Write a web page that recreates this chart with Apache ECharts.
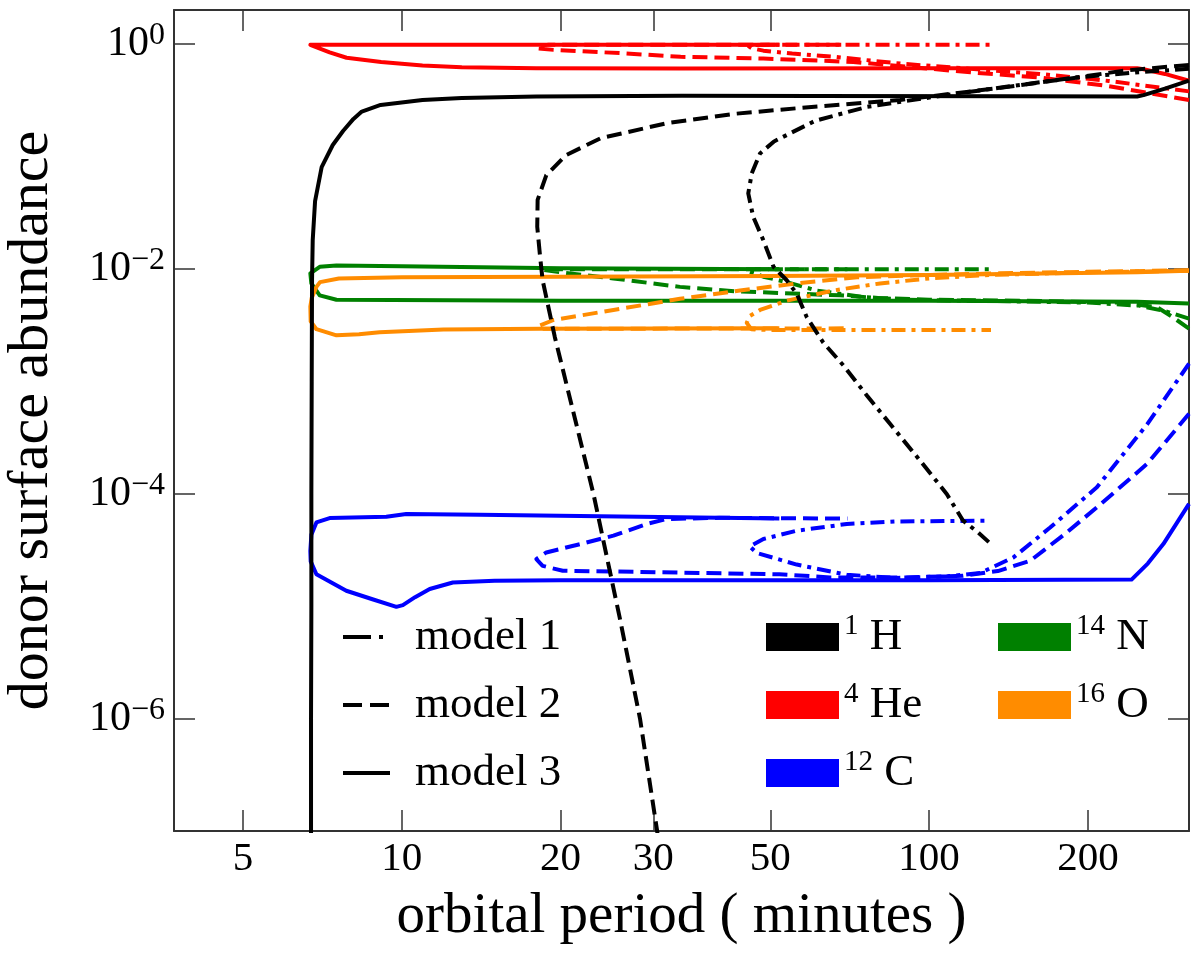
<!DOCTYPE html>
<html><head><meta charset="utf-8">
<script src="https://cdn.jsdelivr.net/npm/echarts@6/dist/echarts.min.js"></script>
<style>html,body{margin:0;padding:0;background:#fff}#c{width:1200px;height:954px}</style>
</head><body><div id="c"></div>
<script>
// ---- axis ticks / ranges ----
const xTicks = [5, 10, 20, 30, 50, 100, 200];
const yTicks = [1e-6, 1e-4, 1e-2, 1];
const xMin = 3.7, xMax = 311;
const yMin = 1e-7, yMax = 2;

const models = ['model 1', 'model 2', 'model 3'];
const species = ['H', 'He', 'C', 'N', 'O'];
const massNumbers = ['1', '4', '12', '14', '16'];

// ---- model 1 (dash-dot): [period (min), abundance] ----
const m1_H = [[311,0.6],[250,0.56],[188,0.5],[140,0.415],[103,0.34],[76.2,0.275],[60.8,0.207],[50.8,0.1356],[47.8,0.106],[46.1,0.0705],[45.4,0.0468],[46.4,0.0289],[48.5,0.0179],[50.7,0.0104],[53.7,0.0079],[56.1,0.006],[58.6,0.00372],[63,0.0022],[68.8,0.00138],[76.2,7.46e-4],[84.3,4.18e-4],[96.1,1.97e-4],[108,9.93e-5],[116,5.75e-5],[124,4.5e-5],[130.5,3.62e-5]];
const m1_He = [[311,0.378],[219,0.468],[162,0.54],[119.8,0.599],[88.6,0.666],[66.1,0.767],[55,0.82],[48.5,0.87],[46.1,0.915],[45.5,0.95],[46.5,0.975],[50,0.984],[131,0.984]];
const m1_C = [[311,1.43e-3],[259,4.13e-4],[208,1.14e-4],[169.6,5.0e-5],[144.5,2.71e-5],[125,1.97e-5],[108,1.84e-5],[86.8,1.78e-5],[69.8,1.9e-5],[56.1,2.34e-5],[47.1,2.97e-5],[45.7,3.4e-5],[48.5,3.95e-5],[56.1,4.68e-5],[69.8,5.37e-5],[86.8,5.66e-5],[130.5,5.75e-5]];
const m1_N = [[311,0.0036],[280,0.0042],[250,0.0047],[200,0.005],[120,0.0052],[90,0.0053],[75,0.0056],[61.2,0.0064],[53.7,0.0076],[48.5,0.0085],[45.7,0.0094],[46.5,0.0099],[60,0.0099],[131,0.0099]];
const m1_O = [[311,0.0096],[200,0.0093],[130,0.0088],[100,0.0082],[80.7,0.0074],[65.8,0.0064],[53.7,0.0052],[47.8,0.0043],[45.7,0.0038],[45.1,0.0033],[46,0.0029],[50,0.00285],[131,0.00285]];

// ---- model 2 (dashed) ----
const m2_H = [[311,0.65],[232,0.575],[188.4,0.498],[136.4,0.406],[88.1,0.317],[56.9,0.269],[42.5,0.238],[31.8,0.197],[23.8,0.1445],[20.5,0.1026],[18.8,0.068],[18.1,0.041],[18.07,0.0236],[18.3,0.0127],[18.5,0.0079],[19.5,0.0025],[21.3,4.66e-4],[23.1,9.9e-5],[24.5,2.7e-5],[25.9,7.9e-6],[28.3,1e-6],[30.5,1e-7],[30.8,7e-8]];
const m2_He = [[311,0.317],[219,0.421],[162,0.502],[119.8,0.558],[71.8,0.69],[48.5,0.741],[33.8,0.767],[26.2,0.825],[19.4,0.884],[18.0,0.915],[18.3,0.96],[19,0.984],[30,0.984],[70,0.984]];
const m2_C = [[311,5.13e-4],[259,1.84e-4],[208,7.55e-5],[180,4.3e-5],[155.5,2.53e-5],[135,2.05e-5],[116,1.86e-5],[90,1.8e-5],[64.9,1.8e-5],[52,1.92e-5],[25.2,2.03e-5],[20.2,2.06e-5],[18.5,2.28e-5],[18.0,2.62e-5],[18.8,3.0e-5],[21.8,3.56e-5],[25.2,4.23e-5],[29.1,5.37e-5],[31.8,5.95e-5],[40,6.1e-5],[70,6.0e-5]];
const m2_N = [[311,0.00293],[290,0.0037],[270,0.00457],[230,0.005],[150,0.0052],[100,0.0053],[80,0.0055],[67.8,0.0058],[43,0.0063],[33.7,0.0069],[25.2,0.0082],[20,0.0093],[18.5,0.0098],[20,0.0099],[70,0.0099]];
const m2_O = [[311,0.0097],[200,0.0094],[136,0.0091],[100,0.0088],[73,0.0084],[56.1,0.0074],[43.8,0.0064],[33.7,0.0054],[25.2,0.0043],[19.4,0.0035],[18.2,0.0031],[18.3,0.00293],[25,0.00293],[70,0.00295]];

// ---- model 3 (solid) ----
const m3_H = [[311,0.47],[280,0.4],[255,0.35],[248,0.34],[150,0.342],[60,0.344],[34,0.345],[18,0.34],[13,0.33],[10.95,0.317],[9.12,0.286],[8.4,0.25],[8.1,0.215],[7.74,0.168],[7.4,0.126],[7.05,0.08],[6.85,0.04],[6.78,0.018],[6.76,0.008],[6.75,1e-3],[6.74,1e-4],[6.74,1e-5],[6.73,1e-6],[6.73,1e-7],[6.73,5e-8]];
const m3_He = [[311,0.47],[280,0.54],[255,0.595],[248,0.607],[100,0.607],[33.8,0.605],[18,0.607],[13,0.62],[10.95,0.643],[9.14,0.69],[7.86,0.752],[7.3,0.84],[6.9,0.93],[6.71,0.98],[7,0.984],[20,0.984],[52,0.984]];
const m3_C = [[311,8.1e-5],[295,5.5e-5],[278,3.56e-5],[260,2.4e-5],[242,1.72e-5],[100,1.7e-5],[20,1.7e-5],[15,1.68e-5],[12.5,1.62e-5],[11.3,1.42e-5],[10.6,1.2e-5],[10.05,1.02e-5],[9.77,9.85e-6],[8.8,1.15e-5],[7.85,1.37e-5],[6.89,1.92e-5],[6.72,2.5e-5],[6.71,3.1e-5],[6.74,4.3e-5],[6.89,5.55e-5],[7.3,6.07e-5],[9.35,6.24e-5],[10.2,6.6e-5],[14.06,6.5e-5],[52,6.0e-5]];
const m3_N = [[311,0.0049],[248,0.0051],[100,0.0052],[20,0.0052],[7.52,0.0053],[6.99,0.0058],[6.74,0.0074],[6.71,0.0091],[6.99,0.0104],[7.52,0.0107],[10,0.0105],[20,0.0101],[52,0.0099]];
const m3_O = [[311,0.0096],[248,0.0093],[100,0.0088],[50,0.0086],[20,0.0085],[10,0.0084],[7.6,0.0082],[7.0,0.0076],[6.89,0.0069],[6.75,0.0055],[6.71,0.0046],[6.72,0.0034],[6.89,0.0029],[7.52,0.00256],[8.3,0.00262],[9.08,0.00273],[12,0.00288],[18.3,0.00293],[52,0.00295]];

// ---- styles ----
const speciesColor = {H:'#000000', He:'#ff0000', C:'#0000ff', N:'#008000', O:'#ff8c00'};
const modelDash = {'model 1':[14,6,4,6], 'model 2':[15,7], 'model 3':'solid'};
const legendDash = {'model 1':[28,8,4,8], 'model 2':[19,8], 'model 3':'solid'};
const FONT = 'Liberation Serif';

const tracks = {
  'model 1': {H:m1_H, He:m1_He, C:m1_C, N:m1_N, O:m1_O},
  'model 2': {H:m2_H, He:m2_He, C:m2_C, N:m2_N, O:m2_O},
  'model 3': {H:m3_H, He:m3_He, C:m3_C, N:m3_N, O:m3_O}
};

const series = [];
['He','C','N','O','H'].forEach(sp => {
  models.forEach(m => {
    series.push({
      type:'line', name: m + ' ' + sp, data: tracks[m][sp],
      symbol:'none', showSymbol:false, silent:true, clip:true,
      lineStyle:{color:speciesColor[sp], width:4, type:modelDash[m], cap:'butt', join:'round'},
      itemStyle:{color:speciesColor[sp]}
    });
  });
});
models.forEach(m => series.push({type:'line', name:m, data:[], symbol:'none',
  lineStyle:{color:'#000', width:4, type:modelDash[m]}, itemStyle:{color:'#000'}}));
species.forEach(sp => series.push({type:'line', name:sp, data:[], symbol:'none',
  lineStyle:{color:speciesColor[sp]}, itemStyle:{color:speciesColor[sp]}}));

const supText = name => {
  const i = species.indexOf(name);
  return '{s|' + massNumbers[i] + '}{n| ' + name + '}';
};
const legendText = {fontFamily:FONT, fontSize:45, color:'#000', lineHeight:50,
  rich:{s:{fontFamily:FONT, fontSize:29, lineHeight:26, verticalAlign:'top', color:'#000'},
        n:{fontFamily:FONT, fontSize:45, lineHeight:50, color:'#000'}}};

const axisLineStyle = {color:'#333', width:2};
const tickStyle = {color:'#333', width:1.5};

const option = {
  animation:false,
  backgroundColor:'#ffffff',
  textStyle:{fontFamily:FONT, fontSize:42, color:'#000'},
  grid:{left:174, right:11, top:10, bottom:123, containLabel:false, outerBoundsMode:'none'},
  legend:[
    {orient:'vertical', left:336, top:607, itemWidth:47, itemHeight:14, itemGap:18,
     selectedMode:false,
     data: models.map(m => ({name:m, itemStyle:{opacity:0}, lineStyle:{type:legendDash[m], width:4, color:'#000'}})),
     textStyle:{fontFamily:FONT, fontSize:45, color:'#000', lineHeight:50, padding:[0,0,0,20]}},
    {orient:'vertical', left:761, top:607, itemWidth:73, itemHeight:28, itemGap:18,
     selectedMode:false, icon:'rect',
     data: ['H','He','C'].map(s => ({name:s, itemStyle:{color:speciesColor[s]}})),
     formatter: supText, textStyle: legendText},
    {orient:'vertical', left:993, top:607, itemWidth:73, itemHeight:28, itemGap:18,
     selectedMode:false, icon:'rect',
     data: ['N','O'].map(s => ({name:s, itemStyle:{color:speciesColor[s]}})),
     formatter: supText, textStyle: legendText}
  ],
  xAxis:[
    {type:'log', logBase:10, min:xMin, max:xMax, position:'bottom', gridIndex:0,
     name:'orbital period ( minutes )', nameLocation:'middle', nameGap:52,
     nameTextStyle:{fontFamily:FONT, fontSize:57, color:'#000', lineHeight:64},
     axisLine:{show:true, onZero:false, lineStyle:axisLineStyle},
     axisTick:{show:true, inside:true, length:21, customValues:xTicks, lineStyle:tickStyle},
     axisLabel:{show:true, customValues:xTicks, margin:8, fontFamily:FONT, fontSize:41, color:'#000',
       formatter: v => String(Math.round(v))},
     splitLine:{show:false}, minorTick:{show:false}, minorSplitLine:{show:false}},
    {type:'log', logBase:10, min:xMin, max:xMax, position:'top', gridIndex:0,
     axisLine:{show:true, onZero:false, lineStyle:axisLineStyle},
     axisTick:{show:true, inside:true, length:21, customValues:xTicks, lineStyle:tickStyle},
     axisLabel:{show:false}, splitLine:{show:false}}
  ],
  yAxis:[
    {type:'log', logBase:10, min:yMin, max:yMax, position:'left', gridIndex:0,
     name:'donor surface abundance', nameLocation:'middle', nameGap:112, nameRotate:90,
     nameTextStyle:{fontFamily:FONT, fontSize:58, color:'#000', lineHeight:60},
     axisLine:{show:true, onZero:false, lineStyle:axisLineStyle},
     axisTick:{show:true, inside:true, length:21, customValues:yTicks, lineStyle:tickStyle},
     axisLabel:{show:true, customValues:yTicks, margin:9, fontFamily:FONT, fontSize:42, color:'#000',
       formatter: v => { const e = Math.round(Math.log10(v)); return '{b|10}{s|' + (e === 0 ? '0' : '\u2212' + (-e)) + '}'; },
       rich:{b:{fontFamily:FONT, fontSize:42, lineHeight:48, color:'#000'},
             s:{fontFamily:FONT, fontSize:32, lineHeight:26, verticalAlign:'top', color:'#000'}}},
     splitLine:{show:false}, minorTick:{show:false}},
    {type:'log', logBase:10, min:yMin, max:yMax, position:'right', gridIndex:0,
     axisLine:{show:true, onZero:false, lineStyle:axisLineStyle},
     axisTick:{show:true, inside:true, length:21, customValues:yTicks, lineStyle:tickStyle},
     axisLabel:{show:false}, splitLine:{show:false}}
  ],
  series: series
};

const chart = echarts.init(document.getElementById('c'), null, {renderer:'canvas', width:1200, height:954});
chart.setOption(option);
</script>
</body></html>
